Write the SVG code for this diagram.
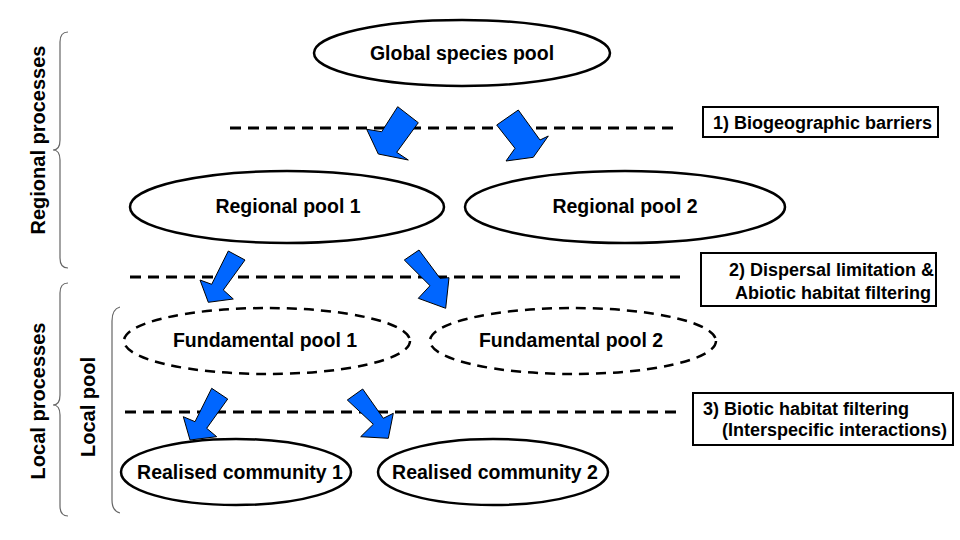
<svg xmlns="http://www.w3.org/2000/svg" width="960" height="540" viewBox="0 0 960 540">
<style>
.t{font-family:"Liberation Sans",Arial,sans-serif;font-weight:bold;fill:#000}
.n{font-size:19.5px;text-anchor:middle}
.b{font-size:18px}
.e{fill:#fff;stroke:#000;stroke-width:2.5}
.d{fill:none;stroke:#000;stroke-width:2.5;stroke-dasharray:10 7}
.l{fill:none;stroke:#000;stroke-width:3;stroke-dasharray:11 7}
.box{fill:#fff;stroke:#000;stroke-width:2}
.ar{fill:#0066ff;stroke:#000;stroke-width:1;stroke-linejoin:miter}
.br{fill:none;stroke:#666;stroke-width:1.2}
</style>
<rect width="960" height="540" fill="#fff"/>
<g id="barrier-lines">
<line class="l" x1="230" y1="128" x2="680" y2="128"/>
<line class="l" x1="130" y1="277" x2="680" y2="277"/>
<line class="l" x1="125" y1="412" x2="680" y2="412"/>
</g>
<g id="global-pool"><ellipse class="e" cx="462" cy="53" rx="148" ry="33"/><text class="t n" x="462" y="60">Global species pool</text></g>
<g id="regional-pool-1"><ellipse class="e" cx="287" cy="207" rx="157" ry="36"/><text class="t n" x="288" y="213">Regional pool 1</text></g>
<g id="regional-pool-2"><ellipse class="e" cx="625" cy="207" rx="160" ry="36"/><text class="t n" x="625" y="213">Regional pool 2</text></g>
<g id="fundamental-pool-1"><ellipse class="d" cx="267" cy="341" rx="143" ry="33"/><text class="t n" x="265" y="347">Fundamental pool 1</text></g>
<g id="fundamental-pool-2"><ellipse class="d" cx="573" cy="341" rx="143" ry="33"/><text class="t n" x="571" y="347">Fundamental pool 2</text></g>
<g id="realised-community-1"><ellipse class="e" cx="236" cy="472" rx="115" ry="33"/><text class="t n" x="240" y="479">Realised community 1</text></g>
<g id="realised-community-2"><ellipse class="e" cx="493" cy="472" rx="115" ry="33"/><text class="t n" x="495" y="479">Realised community 2</text></g>
<g id="connectors">
<polygon class="ar" points="397.7,106.7 418.3,122.7 396.7,152.3 408.3,160 378.3,154 366.7,129.3 381.7,131.7"/>
<polygon class="ar" points="496.7,125 518.3,110 540,140 548.3,136 533.3,157.3 506,161 515,148.3"/>
<polygon class="ar" points="228.3,251 245,260 223.3,290 233.3,299 208.3,302.3 200,280 211.7,284.3"/>
<polygon class="ar" points="404.3,260 419,250 440,278.3 449,277.7 445.7,308.3 418.3,298.3 430,285.7"/>
<polygon class="ar" points="211.7,388.3 227.7,399 206.7,428.3 216.7,436.7 190,440 183.3,416.7 195,421.7"/>
<polygon class="ar" points="347.3,400 362.7,389 383.3,418.3 393.3,413.3 388.3,438.3 360.7,436.7 373.3,424.3"/>
</g>
<g id="label-1"><rect class="box" x="703" y="107" width="235" height="30"/><text class="t b" x="713" y="129">1) Biogeographic barriers</text></g>
<g id="label-2"><rect class="box" x="701" y="253" width="235" height="53"/><text class="t b" x="729" y="276">2) Dispersal limitation &amp;</text><text class="t b" x="735" y="299">Abiotic habitat filtering</text></g>
<g id="label-3"><rect class="box" x="693" y="393" width="260" height="52"/><text class="t b" x="703" y="415">3) Biotic habitat filtering</text><text class="t b" x="722" y="436">(Interspecific interactions)</text></g>
<g id="regional-processes"><path class="br" d="M68,32 Q60,32 60,42 L60,140 Q60,150 53,150 Q60,150 60,160 L60,258 Q60,268 68,268"/><text class="t" font-size="20" text-anchor="middle" transform="translate(45,140) rotate(-90)">Regional processes</text></g>
<g id="local-processes"><path class="br" d="M68,283 Q60,283 60,293 L60,395 Q60,405 53,405 Q60,405 60,415 L60,506 Q60,516 68,516"/><text class="t" font-size="20" text-anchor="middle" transform="translate(45,401) rotate(-90)">Local processes</text></g>
<g id="local-pool"><path class="br" d="M120,307 Q112,309 112,321 L112,500 Q112,511 120,513"/><text class="t" font-size="20" text-anchor="middle" transform="translate(95,407) rotate(-90)">Local pool</text></g>
</svg>
